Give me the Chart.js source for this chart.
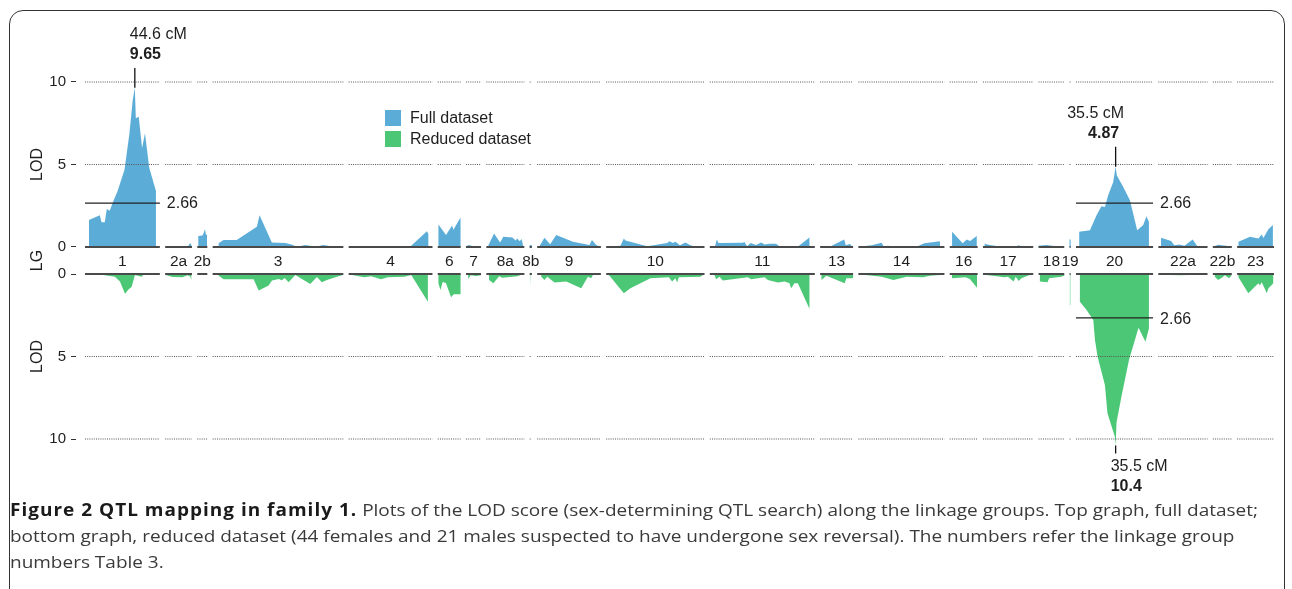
<!DOCTYPE html>
<html>
<head>
<meta charset="utf-8">
<script src="https://cdn.jsdelivr.net/npm/chart.js@4.4.0/dist/chart.umd.min.js"></script>
<style>
html,body{margin:0;padding:0;background:#fff;width:1292px;height:589px;overflow:hidden;}
#frame{position:absolute;left:9px;top:10px;width:1276px;height:640px;border:1.5px solid #333;border-radius:14px;box-sizing:border-box;}
#wrap{position:absolute;left:0;top:0;width:1292px;height:500px;}
#caption{position:absolute;left:10px;top:497px;font-family:"Open Sans",sans-serif;font-size:17px;line-height:26px;color:#3a3a3a;white-space:nowrap;transform-origin:0 0;}
#caption div{display:block;}
#caption span.l{display:inline-block;}
#caption b{color:#1a1a1a;font-weight:700;letter-spacing:0.9px;}
</style>
</head>
<body>
<div id="frame"></div>
<div id="wrap"><canvas id="c" width="1292" height="500"></canvas></div>
<div id="caption">
<div><span class="l" id="l1"><b>Figure 2 QTL mapping in family 1.</b> Plots of the LOD score (sex-determining QTL search) along the linkage groups. Top graph, full dataset;</span></div>
<div><span class="l">bottom graph, reduced dataset (44 females and 21 males suspected to have undergone sex reversal). The numbers refer the linkage group</span></div>
<div><span class="l">numbers Table 3.</span></div>
</div>
<script>
// ---------------- DATA ----------------
const lgNames   = ['1','2a','2b','3','4','6','7','8a','8b','9','10','11','13','14','16','17','18','19','20','22a','22b','23'];
const lgLengths = [67,24,9,117,75,20.5,13.5,34,2,57,88,94,29.5,77,25,45,23,1,69,44,17,33]; // cM

// Full dataset LOD profiles: [cM within LG, LOD]
const fullLOD = [
  [[3.5,1.63],[13.3,1.93],[14.8,1.5],[17.7,1.5],[19.5,2.3],[22.1,2.2],[25.5,2.8],[29.2,3.4],[35.4,4.7],[39.8,6.9],[42.7,8.9],[44.6,9.65],[45.5,7.8],[48.1,7.9],[51.1,6.0],[53.7,6.9],[57.5,4.8],[63.5,3.4]],
  [[0,0.02],[20,0.02],[22.5,0.25],[23.5,0.1]],
  [[0.9,0.66],[4.5,0.7],[5.5,0.8],[6.9,1.07],[7.8,0.75],[8.7,0.75]],
  [[5.4,0.22],[7,0.3],[9.8,0.42],[21.5,0.42],[39.6,1.22],[42,1.93],[53,0.28],[65,0.25],[70.7,0.15],[75.4,0.02],[83,0.12],[92,0.02],[99,0.12],[106,0.05],[116,0.01]],
  [[0,0.02],[12,0.03],[13,0.08],[14,0.03],[55,0.02],[70,0.96],[71.3,0.8]],
  [[0.6,1.37],[7.4,0.72],[12.8,1.3],[14,1.05],[20.4,1.79]],
  [[0,0.02],[2,0.12],[6,0.06],[13,0.04]],
  [[1.8,0.1],[6.9,0.82],[12.3,0.28],[15.2,0.62],[23.3,0.58],[26.2,0.4],[27.7,0.52],[29.8,0.35],[31.6,0.48],[32.8,0.1]],
  [[0,0.12],[1.8,0.12]],
  [[2,0.05],[6.5,0.56],[11.6,0.16],[17,0.72],[32,0.32],[46.8,0.12],[49,0.42],[52.8,0.12],[55.8,0.03]],
  [[0,0.02],[12.8,0.08],[15.8,0.52],[17.2,0.4],[36.7,0.05],[54.6,0.25],[56.7,0.35],[59.7,0.25],[62,0.32],[66,0.1],[71,0.28],[75.4,0.1],[80,0.02],[87.5,0.01]],
  [[4.7,0.05],[6.3,0.46],[7.8,0.25],[29.5,0.26],[31,0.3],[33.4,0.05],[36.4,0.25],[41.4,0.12],[45.9,0.28],[49,0.15],[53.4,0.2],[59.3,0.2],[62.4,0.05],[78.7,0.02],[89.2,0.58]],
  [[0,0.01],[8.7,0.02],[21.5,0.46],[23,0.1],[26.6,0.18],[28.6,0.05]],
  [[0,0.02],[12,0.1],[20.8,0.26],[22.5,0.05],[26.8,0.08],[30,0.01],[52,0.01],[59,0.22],[73,0.35]],
  [[2.1,0.92],[11.6,0.22],[15.2,0.46],[18.2,0.36],[24.2,0.66]],
  [[1.5,0.2],[6,0.12],[14,0.05],[30,0.05],[32,0.1],[34,0.04],[44,0.02]],
  [[0,0.08],[7,0.12],[12,0.08],[23,0.03]],
  [[0,0.45],[1,0.45]],
  [[2.9,0.92],[12.5,1.02],[18.4,1.93],[22.8,2.47],[25.9,2.43],[28.8,3.13],[33.3,3.93],[35.5,4.87],[36.6,4.34],[42.3,3.63],[48.3,2.83],[54.8,1.02],[60.2,1.33],[63.1,1.87],[65.3,1.52]],
  [[2.4,0.56],[11.4,0.36],[14.3,0.1],[18.8,0.15],[23.3,0.08],[30.7,0.46],[35.2,0.02],[44,0.01]],
  [[0,0.02],[4.7,0.14],[15,0.04],[17,0.01]],
  [[1.2,0.32],[11.6,0.62],[19,0.52],[22,0.76],[23.5,0.55],[28,1.07],[32,1.33]]
];

// Reduced dataset LOD profiles: [cM within LG, LOD]
const reducedLOD = [
  [[0,0.02],[13.4,0.03],[26.8,0.16],[31.3,0.46],[35.8,1.2],[38.7,0.95],[41.8,0.78],[44.7,0.06],[50.7,0.16],[52.2,0.06],[62,0.02],[67,0.01]],
  [[0.6,0.06],[6.6,0.18],[15.5,0.2],[20,0.08],[22.5,0.15],[23.4,0.36]],
  [[0,0.02],[9,0.02]],
  [[5.4,0.1],[9.8,0.32],[36.7,0.32],[41.2,1.0],[50.1,0.7],[53.1,0.4],[59.1,0.3],[62,0.38],[64.4,0.24],[68,0.5],[74,0.06],[87.4,0.6],[93.3,0.18],[97.8,0.5],[102.3,0.36],[109.8,0.2],[115.7,0.08]],
  [[2,0.04],[14,0.2],[20,0.14],[29,0.32],[35,0.2],[50,0.16],[56,0.06],[70.9,1.68]],
  [[0.6,0.56],[2.4,0.97],[4.5,0.47],[7.4,0.56],[11.9,1.41],[14.3,1.23],[20.4,1.23]],
  [[2,0.3],[4.2,0.08],[9,0.12],[13.4,0.08]],
  [[2.4,0.36],[6.3,0.56],[11.4,0.14],[14.3,0.22],[27.7,0.14],[30.7,0.06],[34,0.02]],
  [[0.5,0.8],[1,0.8]],
  [[3.6,0.16],[6.5,0.36],[9,0.16],[15.5,0.52],[26,0.46],[39.4,0.87],[45.4,0.16],[48.3,0.26],[49.9,0.06],[57,0.02]],
  [[2.4,0.06],[15.8,1.17],[21.7,0.87],[39.6,0.26],[56.1,0.2],[59,0.46],[62,0.26],[63.5,0.52],[65,0.2],[84.3,0.16],[87.5,0.02]],
  [[4.2,0.06],[5.6,0.32],[8.7,0.16],[11.6,0.4],[34,0.2],[37,0.32],[49,0.2],[52,0.36],[61,0.52],[67,0.46],[71.3,0.56],[72.8,0.87],[75.8,0.56],[78.8,0.56],[89.2,2.1]],
  [[1.2,0.36],[5.6,0.1],[22,0.56],[23.5,0.26],[29.5,0.26]],
  [[0,0.02],[21,0.16],[31.3,0.36],[43.2,0.16],[58,0.2],[64,0.1],[76,0.04]],
  [[2,0.26],[14,0.2],[18,0.3],[24.4,0.83]],
  [[1.5,0.04],[19.4,0.2],[22.4,0.16],[27.5,0.46],[29.3,0.16],[32,0.42],[34.3,0.26],[41.8,0.06],[44.6,0.02]],
  [[1.2,0.46],[8,0.5],[9.5,0.26],[20,0.16],[23,0.1]],
  [[0.3,1.88],[0.7,1.88]],
  [[3.5,1.68],[9.5,2.18],[15.5,2.79],[17,4.0],[19.3,5.0],[25.9,6.73],[28.2,8.44],[34.8,9.86],[35.5,10.4],[36.3,9.0],[40.5,7.5],[47.5,5.2],[56,3.25],[62.2,4.1],[65.3,3.3]],
  [[0,0.04],[20,0.08],[35,0.04],[44,0.01]],
  [[1.8,0.16],[4.7,0.36],[8.7,0.2],[10.7,0.08],[14.6,0.26],[16.5,0.1]],
  [[1.2,0.2],[10,1.17],[19,0.56],[20.4,0.7],[22,0.5],[26.6,1.17],[28,0.87],[32.5,0.56]]
];

const lodTicks = [0,5,10];
const gridLevels = [5,10];
const threshold = 2.66;
const thresholdFullLG = ['1','20'];
const thresholdReducedLG = ['20'];
const peaksFull = [['1',44.6,9.65],['20',35.5,4.87]];      // [LG, cM, LOD]
const peaksReduced = [['20',35.5,10.4]];
const legendLabels = ['Full dataset','Reduced dataset'];

// ---------------- LAYOUT / STYLE ----------------
const BLUE = '#5badd8', GREEN = '#4cc776';
const FONT = '"Liberation Sans", Arial, Helvetica, sans-serif';
const GAP = 4.75;                 // cM gap between linkage groups
const PX_L = 85, PX_R = 1274, AXIS_W = 76;
const UNIT = 16.5, ZERO_TOP = 247, ZERO_BOT = 274, H = 500, PAD_T = 16, PAD_B = 10;
const OFF = (ZERO_BOT - ZERO_TOP) / UNIT;

const lgStart = [];
let acc = 0;
lgLengths.forEach((L,i) => { lgStart.push(acc); acc += L + (i < lgLengths.length-1 ? GAP : 0); });
const TOTAL = acc;
const X_MIN = -(PX_L - AXIS_W) * TOTAL / (PX_R - PX_L);
const Y_MAX = (ZERO_TOP - PAD_T) / UNIT;
const Y_MIN = -(OFF + (H - PAD_B - ZERO_BOT) / UNIT);

const mapTop = v => v;
const mapBot = v => -(v + OFF);
const idx = name => lgNames.indexOf(name);

function areaData(profiles, map) {
  const out = [];
  profiles.forEach((prof, i) => {
    const s = lgStart[i];
    out.push({x: s + prof[0][0], y: map(0)});
    prof.forEach(([c, v]) => out.push({x: s + c, y: map(v)}));
    out.push({x: s + prof[prof.length-1][0], y: map(0)});
  });
  return out;
}
function segData(yv, indices) {
  const out = [];
  indices.forEach(i => {
    const s = lgStart[i], e = lgStart[i] + lgLengths[i];
    out.push({x: s, y: yv}, {x: e, y: yv}, {x: e, y: null});
  });
  return out;
}
const allIdx = lgNames.map((_, i) => i);

const gridData = [];
gridLevels.forEach(l => { gridData.push(...segData(mapTop(l), allIdx)); gridData.push(...segData(mapBot(l), allIdx)); });
const baseData = [...segData(mapTop(0), allIdx), ...segData(mapBot(0), allIdx)];
const thrData = [...segData(mapTop(threshold), thresholdFullLG.map(idx)), ...segData(mapBot(threshold), thresholdReducedLG.map(idx))];
const STEM_TOP = 1.2, STEM_BOT = 0.48;
const stemData = [];
peaksFull.forEach(([lg, c, v]) => { const x = lgStart[idx(lg)] + c; stemData.push({x, y: mapTop(v)}, {x, y: mapTop(v + STEM_TOP)}, {x, y: null}); });
peaksReduced.forEach(([lg, c, v]) => { const x = lgStart[idx(lg)] + c; stemData.push({x, y: mapBot(v)}, {x, y: mapBot(v + STEM_BOT)}, {x, y: null}); });

const peakLabelStyle = [
  {dx1: -5, a1: 'left', dx2: -5, a2: 'left'},
  {dx1: -20, a1: 'center', dx2: -12, a2: 'center'}
];

const textPlugin = {
  id: 'texts',
  afterDraw(chart) {
    const {ctx} = chart;
    const xs = chart.scales.x, ys = chart.scales.y;
    ctx.save();
    ctx.fillStyle = '#1e1e1e';
    ctx.textBaseline = 'middle';
    const drawRot = (t, x, y) => { ctx.save(); ctx.translate(x, y); ctx.rotate(-Math.PI/2); ctx.textAlign = 'center'; ctx.fillText(t, 0, 0); ctx.restore(); };
    ctx.font = '16px ' + FONT;
    const yT0 = ys.getPixelForValue(mapTop(0)), yB0 = ys.getPixelForValue(mapBot(0));
    drawRot('LOD', 38, ys.getPixelForValue(mapTop(5)));
    drawRot('LOD', 38, ys.getPixelForValue(mapBot(5)));
    drawRot('LG', 38, (yT0 + yB0) / 2);
    ctx.font = '15.5px ' + FONT;
    ctx.textAlign = 'center';
    lgNames.forEach((n, i) => {
      ctx.fillText(n, xs.getPixelForValue(lgStart[i] + lgLengths[i] / 2), (yT0 + yB0) / 2 + 1);
    });
    ctx.font = '16px ' + FONT;
    ctx.textAlign = 'left';
    thresholdFullLG.forEach(lg => { const i = idx(lg); ctx.fillText(threshold.toFixed(2), xs.getPixelForValue(lgStart[i] + lgLengths[i]) + 7, ys.getPixelForValue(mapTop(threshold))); });
    thresholdReducedLG.forEach(lg => { const i = idx(lg); ctx.fillText(threshold.toFixed(2), xs.getPixelForValue(lgStart[i] + lgLengths[i]) + 7, ys.getPixelForValue(mapBot(threshold)) + 2); });
    peaksFull.forEach(([lg, c, v], k) => {
      const st = peakLabelStyle[k];
      const px = xs.getPixelForValue(lgStart[idx(lg)] + c);
      const py = ys.getPixelForValue(mapTop(v + STEM_TOP));
      ctx.font = '16px ' + FONT; ctx.textAlign = st.a1;
      ctx.fillText(c.toFixed(1) + ' cM', px + st.dx1, py - 33);
      ctx.font = 'bold 16px ' + FONT; ctx.textAlign = st.a2;
      ctx.fillText(v.toFixed(2), px + st.dx2, py - 13);
    });
    peaksReduced.forEach(([lg, c, v]) => {
      const px = xs.getPixelForValue(lgStart[idx(lg)] + c);
      const py = ys.getPixelForValue(mapBot(v + STEM_BOT));
      ctx.textAlign = 'left';
      ctx.font = '16px ' + FONT;
      ctx.fillText(c.toFixed(1) + ' cM', px - 5, py + 13);
      ctx.font = 'bold 16px ' + FONT;
      ctx.fillText(String(v), px - 5, py + 33);
    });
    const cols = [BLUE, GREEN];
    ctx.font = '16px ' + FONT;
    legendLabels.forEach((t, k) => {
      const y0 = 110 + k * 21;
      ctx.fillStyle = cols[k];
      ctx.fillRect(385, y0, 16, 16);
      ctx.fillStyle = '#1e1e1e';
      ctx.textAlign = 'left';
      ctx.fillText(t, 410, y0 + 8.5);
    });
    ctx.restore();
  }
};

new Chart(document.getElementById('c'), {
  type: 'line',
  data: {
    datasets: [
      {label: legendLabels[0], data: areaData(fullLOD, mapTop), backgroundColor: BLUE, borderWidth: 0, pointRadius: 0, fill: 'origin', order: 10},
      {label: legendLabels[1], data: areaData(reducedLOD, mapBot), backgroundColor: GREEN, borderWidth: 0, pointRadius: 0, fill: {value: mapBot(0)}, order: 10},
      {label: 'grid', data: gridData, borderColor: '#555', borderWidth: 1, borderDash: [1, 1.2], pointRadius: 0, fill: false, spanGaps: false, order: 5},
      {label: 'base', data: baseData, borderColor: '#4a4a4a', borderWidth: 2, pointRadius: 0, fill: false, spanGaps: false, order: 3},
      {label: 'thr', data: thrData, borderColor: '#222', borderWidth: 1.4, pointRadius: 0, fill: false, spanGaps: false, order: 1},
      {label: 'stem', data: stemData, borderColor: '#111', borderWidth: 1.3, pointRadius: 0, fill: false, spanGaps: false, order: 1}
    ]
  },
  options: {
    responsive: false,
    animation: false,
    devicePixelRatio: 1,
    events: [],
    layout: {padding: {left: 0, right: 1292 - PX_R, top: PAD_T, bottom: PAD_B}},
    plugins: {legend: {display: false}, tooltip: {enabled: false}},
    elements: {line: {tension: 0}},
    scales: {
      x: {type: 'linear', display: false, min: X_MIN, max: TOTAL},
      y: {
        type: 'linear', min: Y_MIN, max: Y_MAX,
        afterFit: s => { s.width = AXIS_W; s.paddingTop = 0; s.paddingBottom = 0; },
        afterBuildTicks: s => {
          const t = lodTicks.map(mapTop).concat(lodTicks.map(mapBot)).sort((a, b) => a - b);
          s.ticks = t.map(v => ({value: v}));
        },
        ticks: {
          autoSkip: false, padding: 5, color: '#1e1e1e',
          font: {family: FONT, size: 15},
          callback: v => v >= 0 ? String(Math.round(v)) : String(Math.round(-v - OFF))
        },
        grid: {drawOnChartArea: false, drawTicks: true, tickLength: 5, color: '#333', lineWidth: 1},
        border: {display: false}
      }
    }
  },
  plugins: [textPlugin]
});

(function(){
  const cap = document.getElementById('caption');
  const w = document.getElementById('l1').getBoundingClientRect().width;
  const s = 1248 / w;
  cap.style.transform = 'scaleX(' + s.toFixed(4) + ')';
})();
</script>
</body>
</html>
